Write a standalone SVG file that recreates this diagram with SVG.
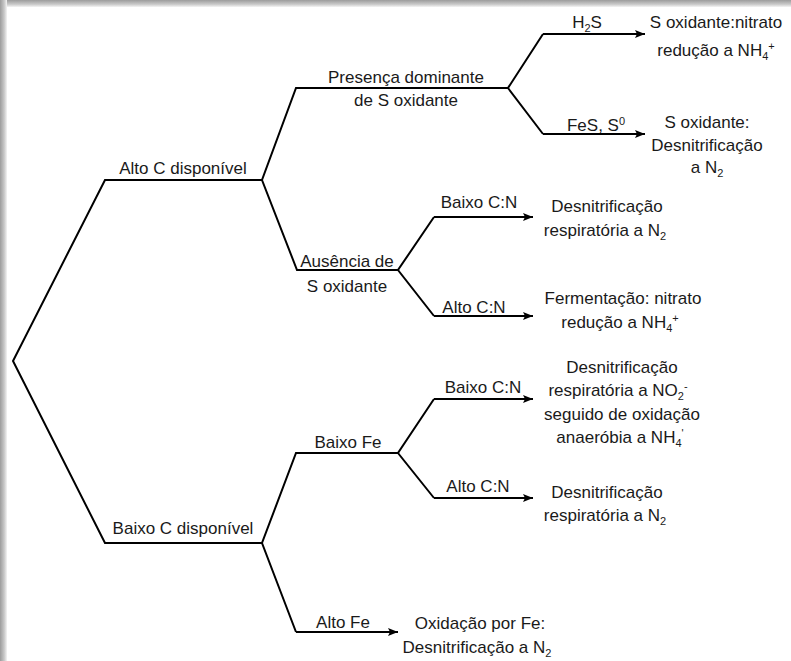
<svg xmlns="http://www.w3.org/2000/svg" width="791" height="661" viewBox="0 0 791 661">
<defs>
<linearGradient id="gTop" x1="0" y1="0" x2="0" y2="1">
<stop offset="0" stop-color="#9c9c9c"/><stop offset="0.6" stop-color="#c8c8c8"/><stop offset="1" stop-color="#f4f4f4"/>
</linearGradient>
<linearGradient id="gLeft" x1="0" y1="0" x2="1" y2="0">
<stop offset="0" stop-color="#9c9c9c"/><stop offset="0.6" stop-color="#c8c8c8"/><stop offset="1" stop-color="#f4f4f4"/>
</linearGradient>
<marker id="arr" markerUnits="userSpaceOnUse" markerWidth="12" markerHeight="10" refX="10" refY="4" orient="auto">
<path d="M0,0 L10,4 L0,8 L2,4 z" fill="#000"/>
</marker>
</defs>
<style>
.t{font-family:"Liberation Sans",Arial,sans-serif;font-size:17px;fill:#1a1a1a;text-anchor:middle}
.c{fill:none;stroke:#000;stroke-width:2;stroke-linejoin:miter}
.a{marker-end:url(#arr)}
</style>
<rect width="791" height="661" fill="#fff"/>
<rect x="0" y="0" width="791" height="7" fill="url(#gTop)"/>
<rect x="0" y="0" width="7" height="661" fill="url(#gLeft)"/>

<g id="connectors">
<path class="c" d="M262,180 H105 L13,361 L105,543 H262"/>
<path class="c" d="M508,88 H296 L262,180 L297,270 H398"/>
<path class="c" d="M398,453 H296 L262,543 L296,632"/>
<path class="c a" d="M296,632 H398"/>
<path class="c" d="M543,34 L508,88 L543,134"/>
<path class="c a" d="M543,34 H645"/>
<path class="c a" d="M543,134 H645"/>
<path class="c" d="M434,217 L398,270 L434,316"/>
<path class="c a" d="M434,217 H533"/>
<path class="c a" d="M434,316 H533"/>
<path class="c" d="M434,399 L398,453 L434,498"/>
<path class="c a" d="M434,399 H533"/>
<path class="c a" d="M434,498 H533"/>
</g>

<g id="alto-c"><text class="t" x="183" y="174">Alto C disponível</text></g>
<g id="baixo-c"><text class="t" x="183" y="534">Baixo C disponível</text></g>
<g id="presenca"><text class="t" x="406" y="83">Presença dominante</text><text class="t" x="406" y="106">de S oxidante</text></g>
<g id="h2s"><text class="t" x="587" y="28">H<tspan font-size="11" dy="4">2</tspan><tspan dy="-4">S</tspan></text></g>
<g id="fes"><text class="t" x="596" y="131">FeS, S<tspan font-size="11" dy="-6">0</tspan></text></g>
<g id="res-nh4-s"><text class="t" x="716" y="28">S oxidante:nitrato</text><text class="t" x="716" y="56">redução a NH<tspan font-size="11" dy="4">4</tspan><tspan font-size="11" dy="-10">+</tspan></text></g>
<g id="res-n2-s"><text class="t" x="707" y="128">S oxidante:</text><text class="t" x="707" y="151">Desnitrificação</text><text class="t" x="707" y="173">a N<tspan font-size="11" dy="4">2</tspan></text></g>
<g id="ausencia"><text class="t" x="347" y="267">Ausência de</text><text class="t" x="347" y="292">S oxidante</text></g>
<g id="baixo-cn-1"><text class="t" x="479" y="208">Baixo C:N</text></g>
<g id="alto-cn-1"><text class="t" x="474" y="313">Alto C:N</text></g>
<g id="res-n2-1"><text class="t" x="607" y="212">Desnitrificação</text><text class="t" x="605" y="236">respiratória a N<tspan font-size="11" dy="4">2</tspan></text></g>
<g id="res-ferm"><text class="t" x="623" y="304">Fermentação: nitrato</text><text class="t" x="620" y="328">redução a NH<tspan font-size="11" dy="4">4</tspan><tspan font-size="11" dy="-10">+</tspan></text></g>
<g id="baixo-fe"><text class="t" x="348" y="448">Baixo Fe</text></g>
<g id="baixo-cn-2"><text class="t" x="483" y="393">Baixo C:N</text></g>
<g id="alto-cn-2"><text class="t" x="478" y="492">Alto C:N</text></g>
<g id="res-anammox"><text class="t" x="622" y="373">Desnitrificação</text><text class="t" x="618" y="396">respiratória a NO<tspan font-size="11" dy="4">2</tspan><tspan font-size="11" dy="-10">-</tspan></text><text class="t" x="622" y="420">seguido de oxidação</text><text class="t" x="620" y="443">anaeróbia a NH<tspan font-size="11" dy="4">4</tspan><tspan font-size="11" dy="-10">'</tspan></text></g>
<g id="res-n2-2"><text class="t" x="607" y="498">Desnitrificação</text><text class="t" x="605" y="521">respiratória a N<tspan font-size="11" dy="4">2</tspan></text></g>
<g id="alto-fe"><text class="t" x="343" y="628">Alto Fe</text></g>
<g id="res-fe"><text class="t" x="480" y="629">Oxidação por Fe:</text><text class="t" x="477" y="653">Desnitrificação a N<tspan font-size="11" dy="4">2</tspan></text></g>
</svg>
